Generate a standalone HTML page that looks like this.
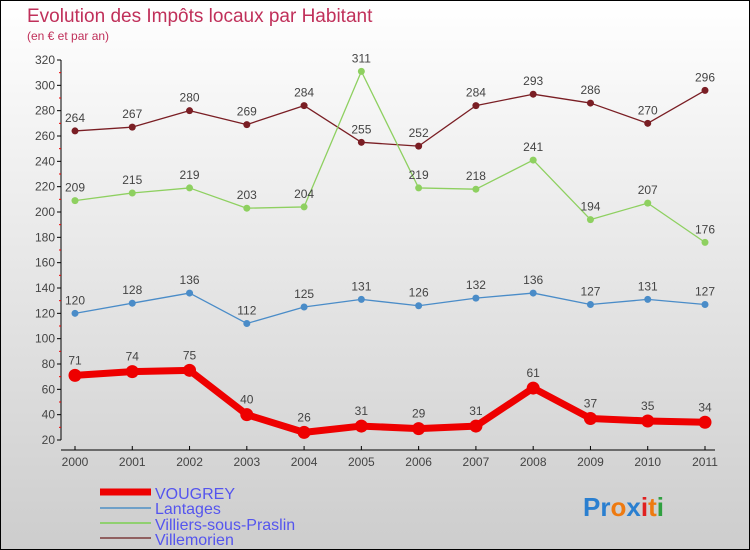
<!DOCTYPE html>
<html><head><meta charset="utf-8"><style>
body{margin:0}
svg{display:block;font-family:"Liberation Sans",sans-serif}
</style></head><body>
<svg id="chart" width="750" height="550" viewBox="0 0 750 550">
<defs><linearGradient id="bg" x1="0" y1="0" x2="0" y2="1"><stop offset="0" stop-color="#ffffff"/><stop offset="1" stop-color="#cdcdcd"/></linearGradient></defs>
<rect x="0.5" y="0.5" width="749" height="549" fill="url(#bg)" stroke="#000"/>
<text x="27" y="22" font-size="19" fill="#c0305a">Evolution des Impôts locaux par Habitant</text>
<text x="27" y="40" font-size="12" fill="#c0305a">(en € et par an)</text>
<g id="axes"></g>
<g id="series"></g>
<g>
<line x1="100" y1="492" x2="151" y2="492" stroke="#ee0000" stroke-width="7"/>
<text x="155" y="499" font-size="16" fill="#5555ee">VOUGREY</text>
<line x1="100" y1="508" x2="151" y2="508" stroke="#6fa0c8" stroke-width="2"/>
<text x="155" y="514" font-size="16" fill="#5555ee">Lantages</text>
<line x1="100" y1="523" x2="151" y2="523" stroke="#90d070" stroke-width="2"/>
<text x="155" y="530" font-size="16" fill="#5555ee">Villiers-sous-Praslin</text>
<line x1="100" y1="538" x2="151" y2="538" stroke="#906060" stroke-width="2"/>
<text x="155" y="545" font-size="16" fill="#5555ee">Villemorien</text>
</g>
<text x="583" y="516" font-size="26" font-weight="bold"><tspan fill="#2a7fd0">Pr</tspan><tspan fill="#ee7a10">o</tspan><tspan fill="#2a7fd0">x</tspan><tspan fill="#e02020">i</tspan><tspan fill="#ee7a10">t</tspan><tspan fill="#30a040">i</tspan></text>
</svg>
<script>
const years=["2000","2001","2002","2003","2004","2005","2006","2007","2008","2009","2010","2011"];
const yTicks=[20,40,60,80,100,120,140,160,180,200,220,240,260,280,300,320];
const vougrey=[71,74,75,40,26,31,29,31,61,37,35,34];
const lantages=[120,128,136,112,125,131,126,132,136,127,131,127];
const villiers=[209,215,219,203,204,311,219,218,241,194,207,176];
const villemorien=[264,267,280,269,284,255,252,284,293,286,270,296];
const NS="http://www.w3.org/2000/svg";
const X=i=>75+i*(630/11);
const Y=v=>440-(v-20)*380/300;
function mk(t,a,p){const e=document.createElementNS(NS,t);for(const k in a)e.setAttribute(k,a[k]);p.appendChild(e);return e;}
const ax=document.getElementById('axes');
let yl=mk('line',{x1:61,y1:Y(320),x2:61,y2:Y(20),stroke:'#000'},ax);


let xl=mk('line',{x1:61,y1:450,x2:715,y2:450,stroke:'#000'},ax);


const yMax=yTicks[yTicks.length-1];
yTicks.forEach(v=>{
 mk('line',{x1:57,y1:Y(v),x2:61,y2:Y(v),stroke:'#000'},ax);
 if(v<yMax) mk('line',{x1:59,y1:Y(v+10),x2:61,y2:Y(v+10),stroke:'#e00'},ax);
 const t=mk('text',{x:55,y:Y(v)+4,'font-size':12,fill:'#444','text-anchor':'end'},ax);t.textContent=v;
 
 
});
years.forEach((y,i)=>{
 mk('line',{x1:X(i),y1:446,x2:X(i),y2:450,stroke:'#000'},ax);
 const t=mk('text',{x:X(i),y:466,'font-size':12,fill:'#444','text-anchor':'middle'},ax);t.textContent=y;
 
 
});
const sg=document.getElementById('series');
function draw(vals,color,w,r,name){
 const g=mk('g',{},sg);
 
 
 mk('polyline',{points:vals.map((v,i)=>X(i)+','+Y(v)).join(' '),fill:'none',stroke:color,'stroke-width':w,'stroke-linejoin':'round'},g);
 vals.forEach((v,i)=>{
  const c=mk('circle',{cx:X(i),cy:Y(v),r:r,fill:color},g);
  
  
  const t=mk('text',{x:X(i),y:Y(v)-9-(r>5?2:0),'font-size':12,fill:'#444','text-anchor':'middle'},g);t.textContent=v;
  
  
 });
}
draw(villemorien,'#7a1e24',1.3,3.5,'villemorien');
draw(villiers,'#8ed060',1.3,3.5,'villiers');
draw(lantages,'#4a8cc8',1.3,3.5,'lantages');
draw(vougrey,'#ee0000',7,6.5,'vougrey');
</script>
</body></html>
